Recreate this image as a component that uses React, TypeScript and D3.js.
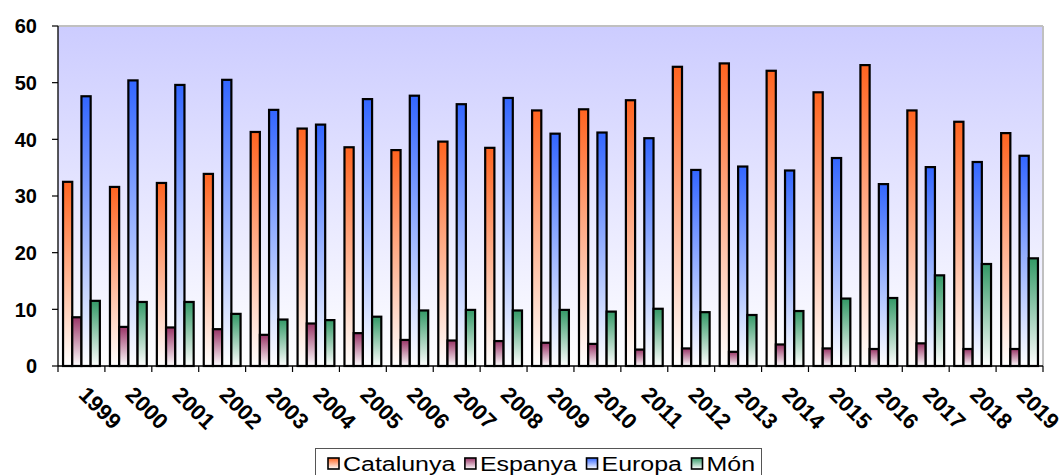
import React, { useMemo } from "react";
import * as d3 from "d3";

const years = ["1999","2000","2001","2002","2003","2004","2005","2006","2007","2008","2009","2010","2011","2012","2013","2014","2015","2016","2017","2018","2019"];
const seriesNames = ["Catalunya", "Espanya", "Europa", "Món"];
const catalunya = [32.5,31.6,32.3,33.9,41.3,41.9,38.6,38.1,39.6,38.5,45.1,45.3,46.9,52.8,53.4,52.1,48.3,53.1,45.1,43.1,41.1];
const espanya = [8.6,6.9,6.8,6.5,5.5,7.5,5.8,4.6,4.5,4.4,4.1,3.9,2.9,3.1,2.5,3.8,3.1,3.0,4.0,3.0,3.0];
const europa = [47.6,50.4,49.6,50.5,45.2,42.6,47.1,47.7,46.2,47.3,41.0,41.2,40.2,34.6,35.2,34.5,36.7,32.1,35.1,36.0,37.1];
const mon = [11.5,11.3,11.3,9.2,8.2,8.1,8.7,9.8,9.9,9.8,9.9,9.6,10.1,9.5,9.0,9.7,11.9,12.0,16.0,18.0,19.0];
const yTicks = [0, 10, 20, 30, 40, 50, 60];
const seriesColors = ["#FF6420", "#993366", "#3366FF", "#339966"];

const W = 1064, H = 475;
const M = { left: 58, right: 1043, top: 26, bottom: 366 };
const FONT = "'Liberation Sans', Arial, sans-serif";

export default function App() {
  const values = [catalunya, espanya, europa, mon];
  const x0 = d3.scaleBand<string>().domain(years).range([M.left, M.right]).padding(0);
  const step = x0.step();
  const groupW = step * 0.785;
  const x1 = d3.scaleBand<string>().domain(seriesNames).range([0, groupW]).padding(0);
  const y = d3.scaleLinear().domain([0, 60]).range([M.bottom, M.top]);

  const legendScale = 1.28;
  const legendLayout = useMemo(() => {
    const c = document.createElement("canvas").getContext("2d");
    let xCur = 328;
    return seriesNames.map((s) => {
      let w = s.length * 10;
      if (c) {
        c.font = `19.5px ${FONT}`;
        w = c.measureText(s).width * legendScale;
      }
      const item = { name: s, sx: xCur, tx: xCur + 15, w };
      xCur = xCur + 15 + w + 9.5;
      return item;
    });
  }, []);

  return (
    <svg width={W} height={H} style={{ position: "absolute", left: 0, top: 0, fontFamily: FONT }}>
      <defs>
        <linearGradient id="bg" x1="0" y1="0" x2="0" y2="1">
          <stop offset="0" stopColor="#CCCCFF" />
          <stop offset="1" stopColor="#FFFFFF" />
        </linearGradient>
        {seriesColors.map((c, i) => (
          <linearGradient key={i} id={`g${i}`} x1="0" y1="0" x2="0" y2="1">
            <stop offset="0" stopColor={c} />
            <stop offset="1" stopColor="#FFFFFF" />
          </linearGradient>
        ))}
      </defs>
      <rect x={0} y={0} width={W} height={H} fill="#FFFFFF" />
      {/* plot area */}
      <rect x={M.left} y={M.top} width={M.right - M.left} height={M.bottom - M.top} fill="url(#bg)" />
      <line x1={M.left} x2={M.right} y1={M.top} y2={M.top} stroke="#C0C0C0" strokeWidth={2} />
      <line x1={M.right} x2={M.right} y1={M.top} y2={M.bottom} stroke="#C0C0C0" strokeWidth={2} />

      {/* bars */}
      {years.map((yr, i) => (
        <g key={yr} transform={`translate(${(x0(yr) as number) + (step - groupW) / 2},0)`}>
          {seriesNames.map((s, k) => {
            const v = values[k][i];
            return (
              <rect
                key={s}
                x={x1(s) as number}
                y={y(v)}
                width={x1.bandwidth()}
                height={y(0) - y(v)}
                fill={`url(#g${k})`}
                stroke="#000"
                strokeWidth={2.2}
              />
            );
          })}
        </g>
      ))}

      {/* axes */}
      <line x1={M.left} x2={M.left} y1={M.top} y2={M.bottom} stroke="#000" strokeWidth={1.3} />
      <line x1={M.left} x2={M.right} y1={M.bottom} y2={M.bottom} stroke="#000" strokeWidth={1.3} />
      {yTicks.map((t) => (
        <g key={t}>
          <line x1={M.left - 6} x2={M.left} y1={y(t)} y2={y(t)} stroke="#000" strokeWidth={1.2} />
          <text x={37} y={y(t)} dy="0.36em" textAnchor="end" fontSize={20} fontWeight="bold" fill="#000">
            {t}
          </text>
        </g>
      ))}
      {years.map((yr) => (
        <line key={yr} x1={x0(yr) as number} x2={x0(yr) as number} y1={M.bottom} y2={M.bottom + 6} stroke="#000" strokeWidth={1.2} />
      ))}
      <line x1={M.right} x2={M.right} y1={M.bottom} y2={M.bottom + 6} stroke="#000" strokeWidth={1.2} />
      {years.map((yr) => {
        const cx = (x0(yr) as number) + step / 2;
        return (
          <text
            key={yr}
            transform={`translate(${cx - 4},396) rotate(45)`}
            fontSize={22}
            fontWeight="bold"
            fill="#000"
          >
            {yr}
          </text>
        );
      })}

      {/* legend */}
      <rect x={315.5} y={448.5} width={446} height={32} fill="#FFFFFF" stroke="#555" strokeWidth={1} />
      {legendLayout.map((it, k) => (
        <g key={it.name}>
          <rect x={it.sx} y={458} width={11} height={11} fill={`url(#g${k})`} stroke="#000" strokeWidth={1.6} />
          <text
            transform={`translate(${it.tx},470.5) scale(${legendScale},1)`}
            fontSize={19.5}
            fill="#000"
          >
            {it.name}
          </text>
        </g>
      ))}
    </svg>
  );
}
